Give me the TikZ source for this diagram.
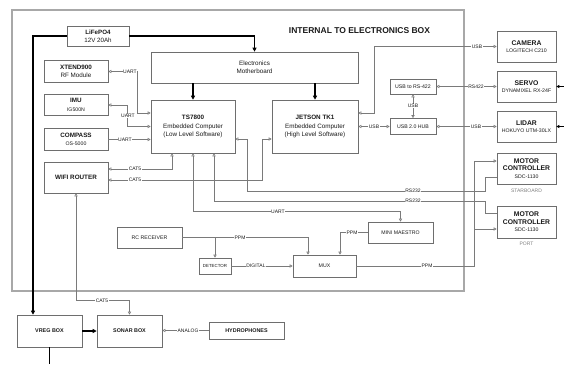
\documentclass[tikz,border=0pt]{standalone}
\usepackage{fontspec}
\setmainfont{Liberation Sans}
\usetikzlibrary{arrows.meta,calc}
\definecolor{lc}{HTML}{7A7A7A}
\definecolor{bc}{HTML}{6E6E6E}
\definecolor{oc}{HTML}{A8A8A8}
\definecolor{tc}{HTML}{1A1A1A}
\newcommand{\fsA}{\fontsize{6.3}{8.3}\selectfont}
\newcommand{\fsB}{\fontsize{5.2}{7}\selectfont}
\newcommand{\fsC}{\fontsize{6.8}{7.6}\selectfont}
\begin{document}
\begin{tikzpicture}[x=1pt,y=-1pt,
  ot/.tip={Triangle[open,length=3pt,width=3.2pt]},
  pt/.tip={Triangle[length=4pt,width=4pt]},
  st/.tip={Triangle[length=3pt,width=3pt]},
  box/.style={draw=bc,fill=white,line width=0.6pt,align=center,inner sep=0pt,text=tc,font=\fsA},
  rbox/.style={box,minimum width=59pt,minimum height=31pt,font=\fsC},
  lbox/.style={box,minimum width=64pt,minimum height=21.5pt},
  sbox/.style={box,font=\fsB},
  conn/.style={draw=lc,line width=0.55pt},
  pwr/.style={draw=black,line width=1.1pt,-pt},
  lbl/.style={fill=white,inner sep=0.6pt,text=tc,font=\fontsize{5}{6}\selectfont},
  glbl/.style={inner sep=0pt,text=gray,font=\fontsize{5}{6}\selectfont}]
\useasboundingbox (0,0) rectangle (564,364);
\draw[draw=oc,line width=1.4pt] (12,10) rectangle (464,291);
\node[font=\bfseries\fontsize{8.5}{10}\selectfont,text=tc] (title) at (359.5,31) {INTERNAL TO ELECTRONICS BOX};

% boxes
\node[box,minimum width=62pt,minimum height=20pt,font=\fontsize{6.2}{7.6}\selectfont] (lipo) at (98,36) {\textbf{LiFePO4}\\12V 20Ah};
\node[box,minimum width=207pt,minimum height=31pt] (mb) at (254.5,67.5) {Electronics\\Motherboard};
\node[box,minimum width=84pt,minimum height=53pt] (ts) at (193,126.5) {\textbf{TS7800}\\Embedded Computer\\(Low Level Software)};
\node[box,minimum width=86pt,minimum height=53pt] (jetson) at (315,126.5) {\textbf{JETSON TK1}\\Embedded Computer\\(High Level Software)};
\node[lbox] (xtend) at (76,71.5) {\textbf{XTEND900}\\RF Module};
\node[lbox] (imu) at (76,105) {\textbf{IMU}\\{\fsB IG500N}};
\node[lbox] (compass) at (76,139.5) {\textbf{COMPASS}\\{\fsB OS-5000}};
\node[lbox,minimum height=31pt] (wifi) at (76,177.5) {\textbf{WIFI ROUTER}};

\node[rbox] (camera) at (526.5,46.5) {\textbf{CAMERA}\\{\fsB LOGITECH C210}};
\node[rbox] (servo) at (526.5,86.5) {\textbf{SERVO}\\{\fsB DYNAMIXEL RX-24F}};
\node[rbox] (lidar) at (526.5,126.5) {\textbf{LIDAR}\\{\fsB HOKUYO UTM-30LX}};
\node[rbox,font=\fontsize{6.8}{7.4}\selectfont] (motorS) at (526.5,168.5) {\textbf{MOTOR}\\\textbf{CONTROLLER}\\{\fsB SDC-1130}};
\node[rbox,minimum height=32pt,font=\fontsize{6.8}{7.4}\selectfont] (motorP) at (526.5,222) {\textbf{MOTOR}\\\textbf{CONTROLLER}\\{\fsB SDC-1130}};
\node[glbl] (stb) at (526.5,191) {STARBOARD};
\node[glbl] (port) at (526.5,244) {PORT};

\node[sbox,minimum width=46pt,minimum height=15pt] (rs422) at (413,86.5) {USB to RS-422};
\node[sbox,minimum width=46pt,minimum height=16pt] (hub) at (413,126.5) {USB 2.0 HUB};

\node[sbox,minimum width=65pt,minimum height=21pt] (rc) at (149.5,237.5) {RC RECEIVER};
\node[box,minimum width=32pt,minimum height=16pt,font=\fontsize{4.4}{5}\selectfont] (det) at (215,266) {DETECTOR};
\node[sbox,minimum width=63pt,minimum height=22pt] (mux) at (324.5,266) {MUX};
\node[sbox,minimum width=65pt,minimum height=21pt] (maestro) at (400.5,232.5) {MINI MAESTRO};

\node[box,minimum width=65pt,minimum height=32pt,font=\bfseries\fontsize{5.4}{6.5}\selectfont] (vreg) at (49.5,331) {VREG BOX};
\node[box,minimum width=65pt,minimum height=32pt,font=\bfseries\fontsize{5.4}{6.5}\selectfont] (sonar) at (129.5,331) {SONAR BOX};
\node[box,minimum width=75pt,minimum height=17pt,font=\bfseries\fontsize{5.4}{6.5}\selectfont] (hydro) at (246.5,330.5) {HYDROPHONES};

% power
\coordinate (vout) at (49.5,364);
\coordinate (se) at (564,86.5);
\coordinate (le) at (564,126.5);
\draw[pwr] (lipo.east) -| (mb.north);
\draw[pwr] (lipo.west) -| ([xshift=-16.5pt]vreg.north);
\draw[pwr] (mb.south -| ts.north) -- (ts.north);
\draw[pwr] (mb.south -| jetson.north) -- (jetson.north);
\draw[pwr] (vreg.east) -- (sonar.west);
\draw[draw=black,line width=1.1pt] (vreg.south) -- (vout);
\draw[draw=black,line width=0.8pt,-st] (se) -- (servo.east);
\draw[draw=black,line width=0.8pt,-st] (le) -- (lidar.east);

% sensors to TS7800
\draw[conn,ot-ot] (xtend.east) -| ([xshift=-13pt,yshift=13.5pt]ts.west) -- ([yshift=13.5pt]ts.west);
\draw[conn,ot-ot] (imu.east) -| ([xshift=-23pt]ts.west) -- (ts.west);
\draw[conn,-ot] (compass.east) -- (compass.east -| ts.west);
\draw[conn,ot-ot] ([yshift=8.5pt]wifi.east) -| ([xshift=-21pt]ts.south);
\draw[conn,ot-ot] ([yshift=-2.5pt]wifi.east) -| ([xshift=-9pt,yshift=-12.5pt]jetson.west) -- ([yshift=-12.5pt]jetson.west);
\draw[conn,ot-ot] (wifi.south) |- ([yshift=14pt]sonar.north) -- (sonar.north);
\draw[conn,-ot] (hydro.west) -- (hydro.west -| sonar.east);

% TS7800 outputs
\draw[conn,ot-] ([yshift=-12.5pt]ts.east) -- ++(12,0) -- ++(0,52) -| ([xshift=-11pt,yshift=-8.5pt]motorS.west) -- ([yshift=-8.5pt]motorS.west);
\draw[conn,ot-] ([xshift=21pt]ts.south) -- ++(0,48) -| ([xshift=-11pt,yshift=9pt]motorP.west) -- ([yshift=9pt]motorP.west);
\draw[conn,ot-ot] (ts.south) |- ([yshift=10pt]maestro.north) -- (maestro.north);

% USB side
\draw[conn,ot-ot] ([yshift=13.5pt]jetson.east) -- ++(16,0) |- (camera.west);
\draw[conn,ot-ot] (jetson.east) -- (hub.west);
\draw[conn,ot-ot] (hub.north) -- (rs422.south);
\draw[conn,ot-ot] (rs422.east) -- (servo.west);
\draw[conn,ot-ot] (hub.east) -- (lidar.west);

% RC / MUX
\draw[conn,-ot] (rc.east) -| ([xshift=-16.5pt]mux.north);
\draw[conn,-ot] (rc.east -| det.north) -- (det.north);
\draw[conn,-ot] (det.east) -- (det.east -| mux.west);
\draw[conn,-ot] (maestro.west) -| ([xshift=15.5pt]mux.north);
\draw[conn,-ot] (mux.east) -| ([xshift=-22pt,yshift=7.5pt]motorS.west) -- ([yshift=7.5pt]motorS.west);
\draw[conn,-ot] ([xshift=-22pt,yshift=-7pt]motorP.west) -- ([yshift=-7pt]motorP.west);

% labels
\node[lbl] (l1) at (130,71.5) {UART};
\node[lbl] (l2) at (128,116) {UART};
\node[lbl] (l3) at (125,139.5) {UART};
\node[lbl] (l4) at (135,169) {CAT5};
\node[lbl] (l5) at (135,180) {CAT5};
\node[lbl] (l6) at (413,191) {RS232};
\node[lbl] (l7) at (413,201) {RS232};
\node[lbl] (l8) at (278,212) {UART};
\node[lbl] (l9) at (477,46.5) {USB};
\node[lbl] (l10) at (374,126.5) {USB};
\node[lbl] (l11) at (413,106) {USB};
\node[lbl] (l12) at (476,86.5) {RS422};
\node[lbl] (l13) at (476,126.5) {USB};
\node[lbl] (l14) at (240,237.5) {PPM};
\node[lbl] (l15) at (256,266) {DIGITAL};
\node[lbl] (l16) at (352,232.5) {PPM};
\node[lbl] (l17) at (427,266) {PPM};
\node[lbl] (l18) at (102,301) {CAT5};
\node[lbl] (l19) at (188,330.5) {ANALOG};
\end{tikzpicture}
\end{document}
